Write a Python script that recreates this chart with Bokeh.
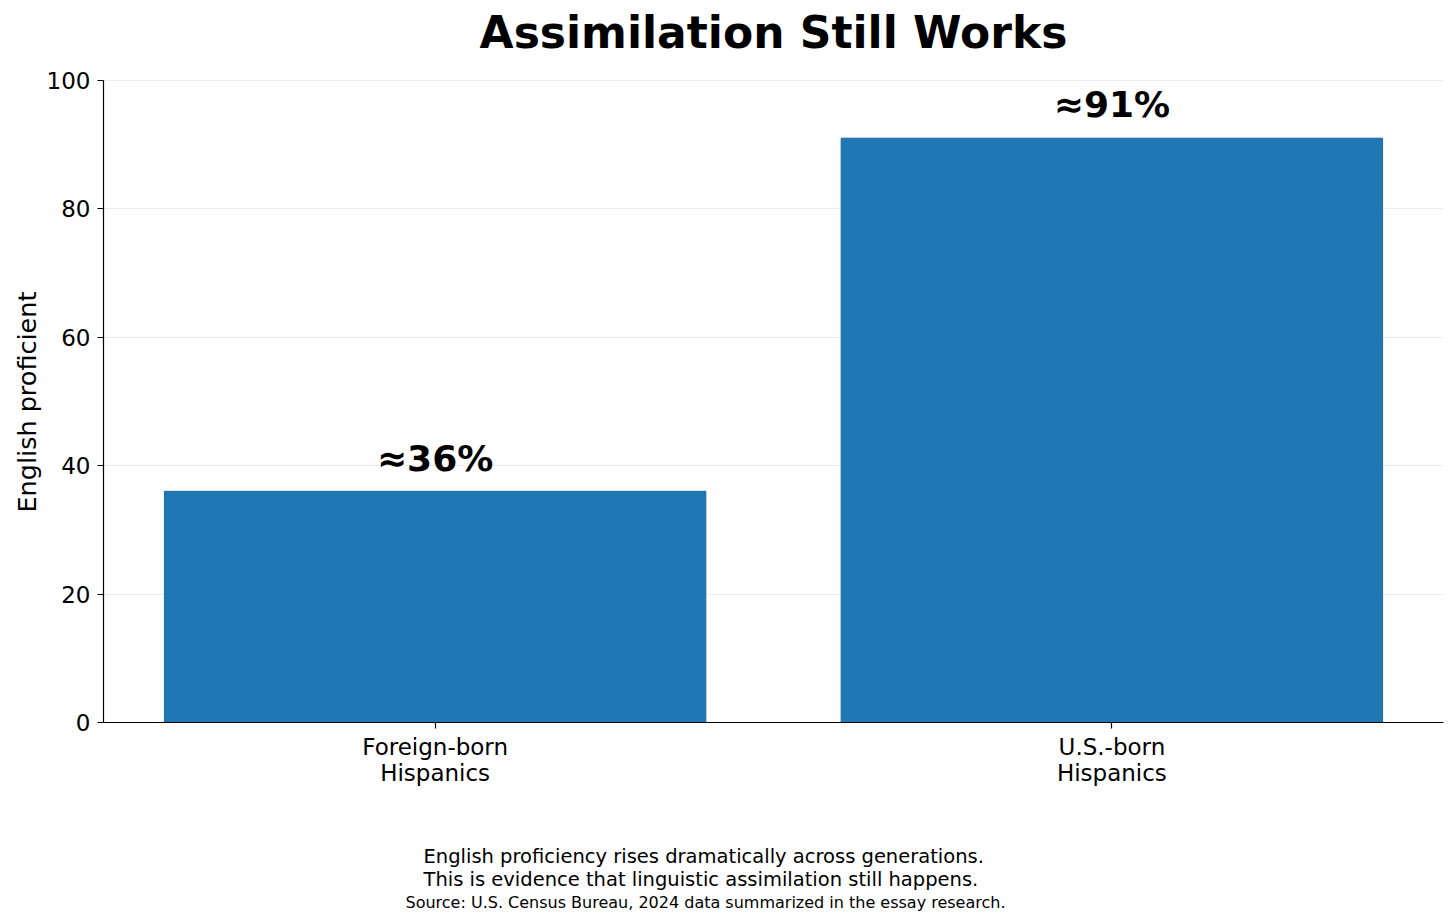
from bokeh.plotting import figure
from bokeh.models import Label, FixedTicker, Range1d, Title
from bokeh.embed import file_html
from bokeh.resources import INLINE

categories = ["Foreign-born\nHispanics", "U.S.-born\nHispanics"]
values = [36, 91]
bar_labels = ["≈36%", "≈91%"]
y_ticks = [0, 20, 40, 60, 80, 100]
title_text = "Assimilation Still Works"
y_label = "English proficient"
caption_lines = ["English proficiency rises dramatically across generations.",
                 "This is evidence that linguistic assimilation still happens."]
source_text = "Source: U.S. Census Bureau, 2024 data summarized in the essay research."

FONT = "DejaVu Sans"
xs = list(range(len(categories)))

# y range extends above 100 to leave room for the title inside the frame;
# the y axis itself is bounded to 0..100
p = figure(width=1448, height=913, output_backend="svg", toolbar_location=None, title=None,
           x_range=Range1d(-0.49, 1.49), y_range=Range1d(0, 111.2),
           min_border_left=103, min_border_right=5, min_border_top=8, min_border_bottom=191)
p.outline_line_color = None
p.background_fill_color = "white"
p.border_fill_color = "white"

p.vbar(x=xs, top=values, width=0.8, fill_color="#1f77b4", line_color="#1a6aa0", line_width=1)

for x, v, t in zip(xs, values, bar_labels):
    p.add_layout(Label(x=x, y=v + 2, text=t, text_align="center", text_baseline="bottom",
                       text_font=FONT, text_font_style="bold", text_font_size="36px",
                       text_color="black"))

p.add_layout(Label(x=0.5, y=107.5, text=title_text, text_align="center",
                   text_baseline="alphabetic", text_font=FONT, text_font_style="bold",
                   text_font_size="44px", text_color="black"))

# axes
p.xaxis.ticker = FixedTicker(ticks=xs)
p.xaxis.major_label_overrides = {i: c for i, c in enumerate(categories)}
p.yaxis.ticker = FixedTicker(ticks=y_ticks)
p.yaxis.bounds = (0, 100)
for ax in (p.xaxis, p.yaxis):
    ax.axis_line_color = "black"
    ax.axis_line_width = 1.2
    ax.major_tick_line_color = "black"
    ax.major_tick_line_width = 1.2
    ax.major_tick_out = 6
    ax.major_tick_in = 0
    ax.minor_tick_line_color = None
    ax.major_label_text_font = FONT
    ax.major_label_text_font_size = "23px"
    ax.major_label_text_color = "black"
    ax.major_label_standoff = 7
p.xaxis.major_label_standoff = 5
p.xaxis.major_label_text_line_height = 1.0

# y axis label as a left-side title so it is centred on the 0..100 span
ylab = Title(text=y_label, align="left", offset=210, standoff=3,
             text_font=FONT, text_font_size="25.5px", text_font_style="normal",
             text_color="black")
p.add_layout(ylab, "left")

p.xgrid.grid_line_color = None
p.ygrid.grid_line_color = "#ebebeb"
p.ygrid.grid_line_width = 1

# captions below the plot (a blank spacer title first)
spacer = Title(text=" ", align="left", standoff=28, text_font=FONT, text_font_size="20px",
               text_color="white")
tcap = Title(text="\n".join(caption_lines), align="left", offset=320, standoff=0,
             text_font=FONT, text_font_size="19.5px", text_font_style="normal",
             text_color="black", text_line_height=1.0)
tsrc = Title(text=source_text, align="left", offset=302, standoff=0,
             text_font=FONT, text_font_size="16px", text_font_style="normal", text_color="black")
p.add_layout(spacer, "below")
p.add_layout(tcap, "below")
p.add_layout(tsrc, "below")

open("out.html", "w").write(file_html(p, INLINE))
